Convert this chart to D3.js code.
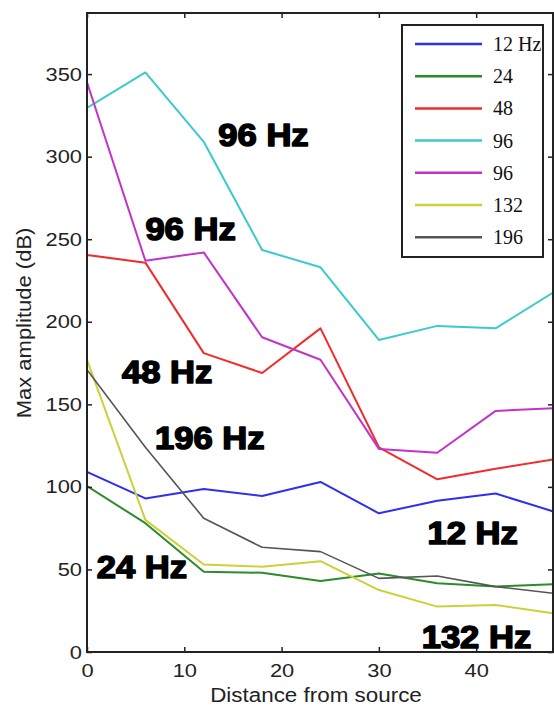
<!DOCTYPE html>
<html>
<head>
<meta charset="utf-8">
<script src="https://cdn.jsdelivr.net/npm/d3@7"></script>
<style>
    body { margin: 0; background: #fff; }
    svg { display: block; }
</style>
</head>
<body>
<div id="chart"></div>
<script>
// distance from source, one sample every 6 units
const distance = [0, 6, 12, 18, 24, 30, 36, 42, 48];

const hz12 = [109, 93, 98.7, 94.5, 103, 84, 91.6, 96, 85];
const hz24 = [100.5, 78, 48.6, 48, 43, 47.6, 41.6, 39.6, 41];
const hz48 = [240.5, 235.8, 181, 169, 196, 124, 104.6, 111, 116.7];
const hz96a = [329.5, 351, 309, 243.5, 233, 189, 197.5, 196, 218];
const hz96b = [345, 237, 242, 190.6, 177, 123, 120.7, 146, 147.6];
const hz132 = [177, 80, 53, 51.7, 55, 37.5, 27.5, 28.5, 23.4];
const hz196 = [171, 124, 81, 63.4, 60.8, 44.6, 46, 39.6, 35.5];

const legendLabels = ['12 Hz', '24', '48', '96', '96', '132', '196'];
const yTicks = [0, 50, 100, 150, 200, 250, 300, 350];
const xTicks = [0, 10, 20, 30, 40];

// in-plot annotations, anchored in data units (x, y = baseline start)
const noteText = ['96 Hz', '96 Hz', '48 Hz', '196 Hz', '24 Hz', '12 Hz', '132 Hz'];
const noteX = [13.5, 6, 3.6, 7.0, 1.0, 35.0, 34.4];
const noteY = [306.5, 249.5, 163, 123, 44.8, 65.4, 2.4];

const series = [
    {values: hz12, color: '#2f2ff0', width: 2},
    {values: hz24, color: '#2a8c2a', width: 2},
    {values: hz48, color: '#f22c2c', width: 2},
    {values: hz96a, color: '#3ccaca', width: 2},
    {values: hz96b, color: '#c233c8', width: 2},
    {values: hz132, color: '#cfcf3a', width: 2},
    {values: hz196, color: '#555555', width: 1.6},
];

const W = 554;
const H = 708;
const margin = {top: 13, right: 1, bottom: 56, left: 87};

const svg = d3.select('#chart')
    .append('svg')
    .attr('width', W)
    .attr('height', H);

const x = d3.scaleLinear()
    .domain([0, 48])
    .range([margin.left, W - margin.right + 1]);

const y = d3.scaleLinear()
    .domain([0, 387])
    .range([H - margin.bottom, margin.top]);

const frameRight = 553;

// stretch text horizontally, the picture has wide glyphs
const stretch = (sel, k) => {
    sel.each(function() {
        const len = this.getComputedTextLength();
        d3.select(this)
            .attr('textLength', len * k)
            .attr('lengthAdjust', 'spacingAndGlyphs');
    });
};

svg.append('clipPath')
    .attr('id', 'plot-clip')
    .append('rect')
    .attr('x', margin.left)
    .attr('y', margin.top)
    .attr('width', frameRight - margin.left)
    .attr('height', y(0) - margin.top);

const line = d3.line()
    .x((d, i) => x(distance[i]))
    .y((d) => y(d));

svg.append('g')
    .attr('clip-path', 'url(#plot-clip)')
    .selectAll('path')
    .data(series)
    .enter()
    .append('path')
    .attr('d', (d) => line(d.values))
    .attr('fill', 'none')
    .attr('stroke', (d) => d.color)
    .attr('stroke-width', (d) => d.width)
    .attr('stroke-linejoin', 'round');

// axes, ticks point inward like matlab
const axisFont = '"Liberation Sans", Arial, sans-serif';

const gx = svg.append('g')
    .attr('transform', 'translate(0,' + y(0) + ')')
    .call(d3.axisBottom(x).tickValues(xTicks).tickSizeInner(-5).tickSizeOuter(0).tickPadding(12));

const gy = svg.append('g')
    .attr('transform', 'translate(' + margin.left + ',0)')
    .call(d3.axisLeft(y).tickValues(yTicks).tickSizeInner(-5).tickSizeOuter(0).tickPadding(5));

const gt = svg.append('g')
    .attr('transform', 'translate(0,' + margin.top + ')')
    .call(d3.axisTop(x).tickValues(xTicks).tickSizeInner(-5).tickSizeOuter(0).tickFormat(''));

const gr = svg.append('g')
    .attr('transform', 'translate(' + frameRight + ',0)')
    .call(d3.axisRight(y).tickValues(yTicks).tickSizeInner(-5).tickSizeOuter(0).tickFormat(''));

[gx, gy, gt, gr].forEach((g) => {
    g.select('.domain').remove();
    g.selectAll('line').attr('stroke', '#222').attr('stroke-width', 1.5);
    g.selectAll('text')
        .attr('fill', '#222')
        .style('font-family', axisFont)
        .style('font-size', '19px');
});
gx.selectAll('text').call(stretch, 1.15);
gy.selectAll('text').call(stretch, 1.15);

svg.append('rect')
    .attr('x', margin.left)
    .attr('y', margin.top)
    .attr('width', frameRight - margin.left)
    .attr('height', y(0) - margin.top)
    .attr('fill', 'none')
    .attr('stroke', '#222')
    .attr('stroke-width', 2);

svg.append('text')
    .attr('x', 316)
    .attr('y', 702)
    .attr('text-anchor', 'middle')
    .style('font-family', axisFont)
    .style('font-size', '20px')
    .attr('fill', '#222')
    .text('Distance from source')
    .call(stretch, 1.12);

svg.append('text')
    .attr('transform', 'translate(31,323) rotate(-90)')
    .attr('text-anchor', 'middle')
    .style('font-family', axisFont)
    .style('font-size', '20px')
    .attr('fill', '#222')
    .text('Max amplitude (dB)')
    .call(stretch, 1.1);

// bold annotations, a thin outline makes them as heavy as the original
svg.append('g')
    .selectAll('text')
    .data(noteText)
    .enter()
    .append('text')
    .attr('x', (d, i) => x(noteX[i]))
    .attr('y', (d, i) => y(noteY[i]))
    .style('font-family', axisFont)
    .style('font-weight', 'bold')
    .style('font-size', '32px')
    .attr('fill', '#000')
    .attr('stroke', '#000')
    .attr('stroke-width', 1.6)
    .attr('stroke-linejoin', 'round')
    .text((d) => d)
    .call(stretch, 1.08);

// legend
const legend = svg.append('g');
legend.append('rect')
    .attr('x', 402)
    .attr('y', 25)
    .attr('width', 141)
    .attr('height', 232)
    .attr('fill', '#fff')
    .attr('stroke', '#222')
    .attr('stroke-width', 2);

const row = legend.selectAll('.row')
    .data(series)
    .enter()
    .append('g')
    .attr('class', 'row')
    .attr('transform', (d, i) => 'translate(0,' + (44 + i * 32.2) + ')');

row.append('line')
    .attr('x1', 415)
    .attr('x2', 482)
    .attr('stroke', (d) => d.color)
    .attr('stroke-width', 2.5);

row.append('text')
    .attr('x', 493)
    .attr('dy', '0.35em')
    .style('font-family', '"Liberation Serif", "Times New Roman", serif')
    .style('font-size', '20px')
    .attr('fill', '#111')
    .text((d, i) => legendLabels[i]);
</script>
</body>
</html>
